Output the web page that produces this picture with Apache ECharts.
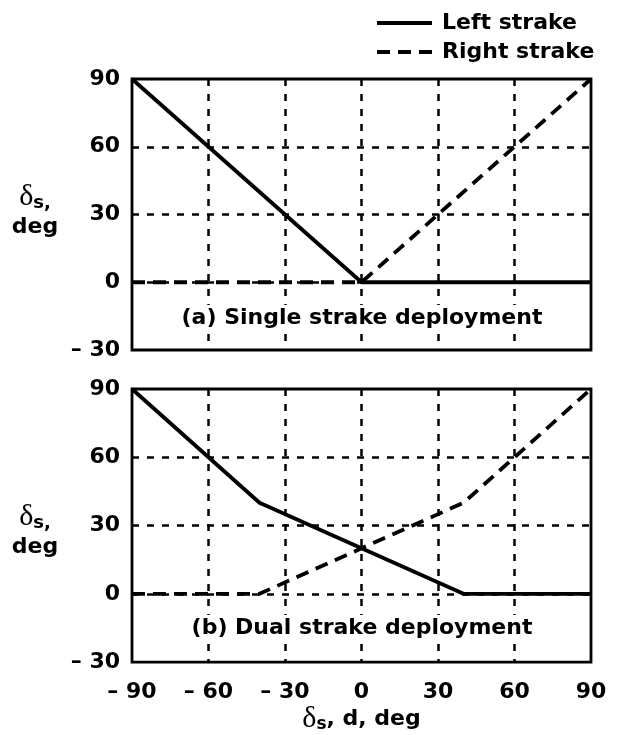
<!DOCTYPE html>
<html>
<head>
<meta charset="utf-8">
<script src="https://cdn.jsdelivr.net/npm/echarts@6/dist/echarts.min.js"></script>
<style>
  html, body { margin: 0; padding: 0; background: #fff; }
  #chart { width: 619px; height: 735px; }
</style>
</head>
<body>
<div id="chart"></div>
<script>
// break points of each schedule, deg
var singleLeftX = [-90, 0, 90];
var singleLeftY = [90, 0, 0];
var singleRightX = [-90, 0, 90];
var singleRightY = [0, 0, 90];

var dualLeftX = [-90, -40, 40, 90];
var dualLeftY = [90, 40, 0, 0];
var dualRightX = [-90, -40, 40, 90];
var dualRightY = [0, 0, 40, 90];

var xTicks = [-90, -60, -30, 0, 30, 60, 90];
var yTicks = [-30, 0, 30, 60, 90];

var FONT = '"DejaVu Sans", sans-serif';
var SERIF = '"Liberation Serif", "DejaVu Serif", serif';

function pairs(xs, ys) {
    return xs.map(function (x, i) { return [x, ys[i]]; });
}

function minusLabel(v) {
    return v < 0 ? '\u2013 ' + Math.abs(v) : '' + v;
}

var gridLine = {
    show: true, showMinLine: false, showMaxLine: false,
    lineStyle: { color: '#000', width: 2.5, type: [7, 8] }
};

function xAxis(idx, showLabels) {
    var ax = {
        type: 'value', gridIndex: idx,
        min: xTicks[0], max: xTicks[xTicks.length - 1], interval: 30,
        axisLine: { show: false }, axisTick: { show: false },
        splitLine: gridLine,
        axisLabel: {
            show: showLabels, margin: 19, color: '#000',
            fontFamily: FONT, fontWeight: 'bold', fontSize: 22,
            formatter: minusLabel
        }
    };
    if (showLabels) {
        ax.name = '{d|\u03b4}{s|s}{t|, d, deg}';
        ax.nameLocation = 'middle';
        ax.nameGap = 38;
        ax.nameTextStyle = {
            rich: {
                d: { fontFamily: SERIF, fontSize: 30, color: '#000' },
                s: { fontFamily: FONT, fontWeight: 'bold', fontSize: 17, color: '#000', padding: [12, 0, 0, 0] },
                t: { fontFamily: FONT, fontWeight: 'bold', fontSize: 22, color: '#000' }
            }
        };
    }
    return ax;
}

function yAxis(idx) {
    return {
        type: 'value', gridIndex: idx,
        min: yTicks[0], max: yTicks[yTicks.length - 1], interval: 30,
        axisLine: { show: false }, axisTick: { show: false },
        splitLine: gridLine,
        axisLabel: {
            margin: 12, color: '#000',
            fontFamily: FONT, fontWeight: 'bold', fontSize: 22,
            formatter: minusLabel
        }
    };
}

function lineSeries(name, idx, data, dashed) {
    return {
        name: name, type: 'line',
        xAxisIndex: idx, yAxisIndex: idx,
        data: data, symbol: 'none', z: 3,
        lineStyle: { color: '#000', width: 3.8, type: dashed ? [13, 8] : 'solid' },
        itemStyle: { color: '#000' }
    };
}

function panelText(text, y) {
    return {
        type: 'text', x: 362, y: y, z: 10,
        style: {
            text: text, fill: '#000', font: 'bold 22px ' + FONT,
            align: 'center', verticalAlign: 'top',
            backgroundColor: '#fff', padding: [2, 4]
        }
    };
}

function yName(y) {
    return {
        type: 'text', x: 35, y: y, z: 10,
        style: {
            text: '{d|\u03b4}{s|s,}\n{t|deg}',
            align: 'center', verticalAlign: 'top',
            rich: {
                d: { fontFamily: SERIF, fontSize: 30, fill: '#000', lineHeight: 34 },
                s: { fontFamily: FONT, fontWeight: 'bold', fontSize: 18, fill: '#000', padding: [12, 0, 0, 0] },
                t: { fontFamily: FONT, fontWeight: 'bold', fontSize: 22, fill: '#000', lineHeight: 26 }
            }
        }
    };
}

var chart = echarts.init(document.getElementById('chart'));

chart.setOption({
    backgroundColor: '#fff',
    animation: false,
    legend: {
        orient: 'vertical', left: 370, top: 7,
        itemWidth: 55, itemHeight: 14, itemGap: 7,
        data: ['Left strake', 'Right strake'],
        itemStyle: { opacity: 0 },
        lineStyle: { width: 4 },
        textStyle: { color: '#000', fontFamily: FONT, fontWeight: 'bold', fontSize: 22, padding: [0, 0, 0, 5] },
        selectedMode: false
    },
    grid: [
        { left: 132, width: 459, top: 79, height: 271, show: true, borderColor: '#000', borderWidth: 2.8 },
        { left: 132, width: 459, top: 389, height: 274, show: true, borderColor: '#000', borderWidth: 2.8 }
    ],
    xAxis: [xAxis(0, false), xAxis(1, true)],
    yAxis: [yAxis(0), yAxis(1)],
    series: [
        lineSeries('Left strake', 0, pairs(singleLeftX, singleLeftY), false),
        lineSeries('Right strake', 0, pairs(singleRightX, singleRightY), true),
        lineSeries('Left strake', 1, pairs(dualLeftX, dualLeftY), false),
        lineSeries('Right strake', 1, pairs(dualRightX, dualRightY), true)
    ],
    graphic: [
        panelText('(a) Single strake deployment', 305),
        panelText('(b) Dual strake deployment', 615),
        yName(180),
        yName(500)
    ]
});
</script>
</body>
</html>
